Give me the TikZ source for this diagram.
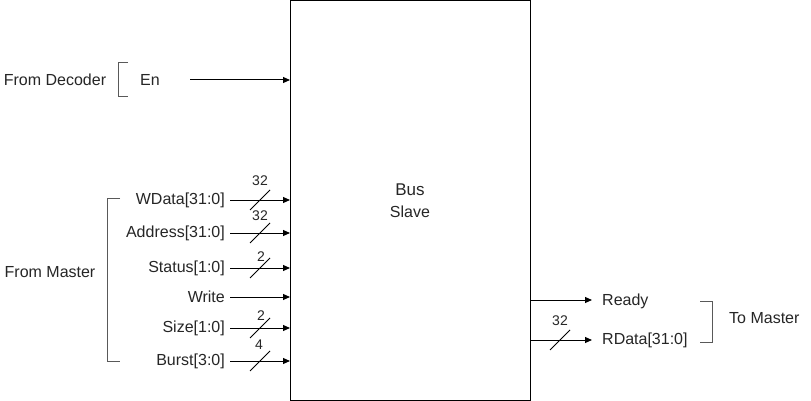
\documentclass[tikz,border=0pt]{standalone}
\usepackage{fontspec}
\setmainfont{Liberation Sans}
\usetikzlibrary{arrows.meta}
\begin{document}
\begin{tikzpicture}[x=1pt,y=-1pt,
  lbl/.style={font=\fontsize{16}{18}\selectfont, inner sep=0pt, text=black!85},
  small/.style={font=\fontsize{14}{16}\selectfont, inner sep=0pt, text=black!85},
  sig/.style={line width=1pt, -{Triangle[length=7pt,width=6pt]}},
  brk/.style={line width=1pt, draw=black!65}]
\useasboundingbox (0,0) rectangle (811,401);
\fill[white] (0,0) rectangle (811,401);
% main block
\draw[line width=1pt] (290.5,0.5) rectangle (530,400);
\node[lbl, font=\fontsize{17}{19}\selectfont] (bus) at (410,190) {Bus};
\node[lbl] (slave) at (410,212) {Slave};
% decoder input
\node[lbl] (fromdec) at (55,80) {From Decoder};
\node[lbl] (en) at (150,80) {En};
\coordinate (enS) at (190,80);
\coordinate (enE) at (290,80);
\draw[sig] (enS) -- (enE);
\draw[brk] (128,63) -- (118,63) -- (118,97) -- (128,97);
% master inputs
\foreach \name/\txt/\y in {wd/WData[31:0]/200, ad/Address[31:0]/233, st/Status[1:0]/268, wr/Write/297, sz/Size[1:0]/328, bu/Burst[3:0]/361}{
  \node[lbl, anchor=east] (\name) at (225,\y) {\txt};
  \coordinate (\name S) at (230,\y);
  \coordinate (\name E) at (290,\y);
  \draw[sig] (\name S) -- (\name E);
}
\foreach \name in {wd, ad, st, sz, bu}{
  \draw[line width=0.8pt] ([shift={(-10,10)}]\name S -| 260,0) -- ([shift={(10,-10)}]\name S -| 260,0);
}
\node[small] (wdw) at (260,181) {32};
\node[small] (adw) at (260,216) {32};
\node[small] (stw) at (261,257) {2};
\node[small] (szw) at (261,316) {2};
\node[small] (buw) at (259,345) {4};
\draw[brk] (120,198) -- (107,198) -- (107,361) -- (120,361);
\node[lbl] (frommaster) at (50,272) {From Master};
% outputs
\coordinate (rdyS) at (530,300);
\coordinate (rdyE) at (592,300);
\draw[sig] (rdyS) -- (rdyE);
\node[lbl, anchor=west] (ready) at (602,301) {Ready};
\coordinate (rdS) at (530,340);
\coordinate (rdE) at (592,340);
\draw[sig] (rdS) -- (rdE);
\draw[line width=0.8pt] (550,350) -- (570,330);
\node[small] (rdw) at (560,321) {32};
\node[lbl, anchor=west] (rdata) at (602,340) {RData[31:0]};
\draw[brk] (700,301) -- (712,301) -- (712,342) -- (700,342);
\node[lbl, anchor=west] (tomaster) at (729,318) {To Master};
\end{tikzpicture}
\end{document}
